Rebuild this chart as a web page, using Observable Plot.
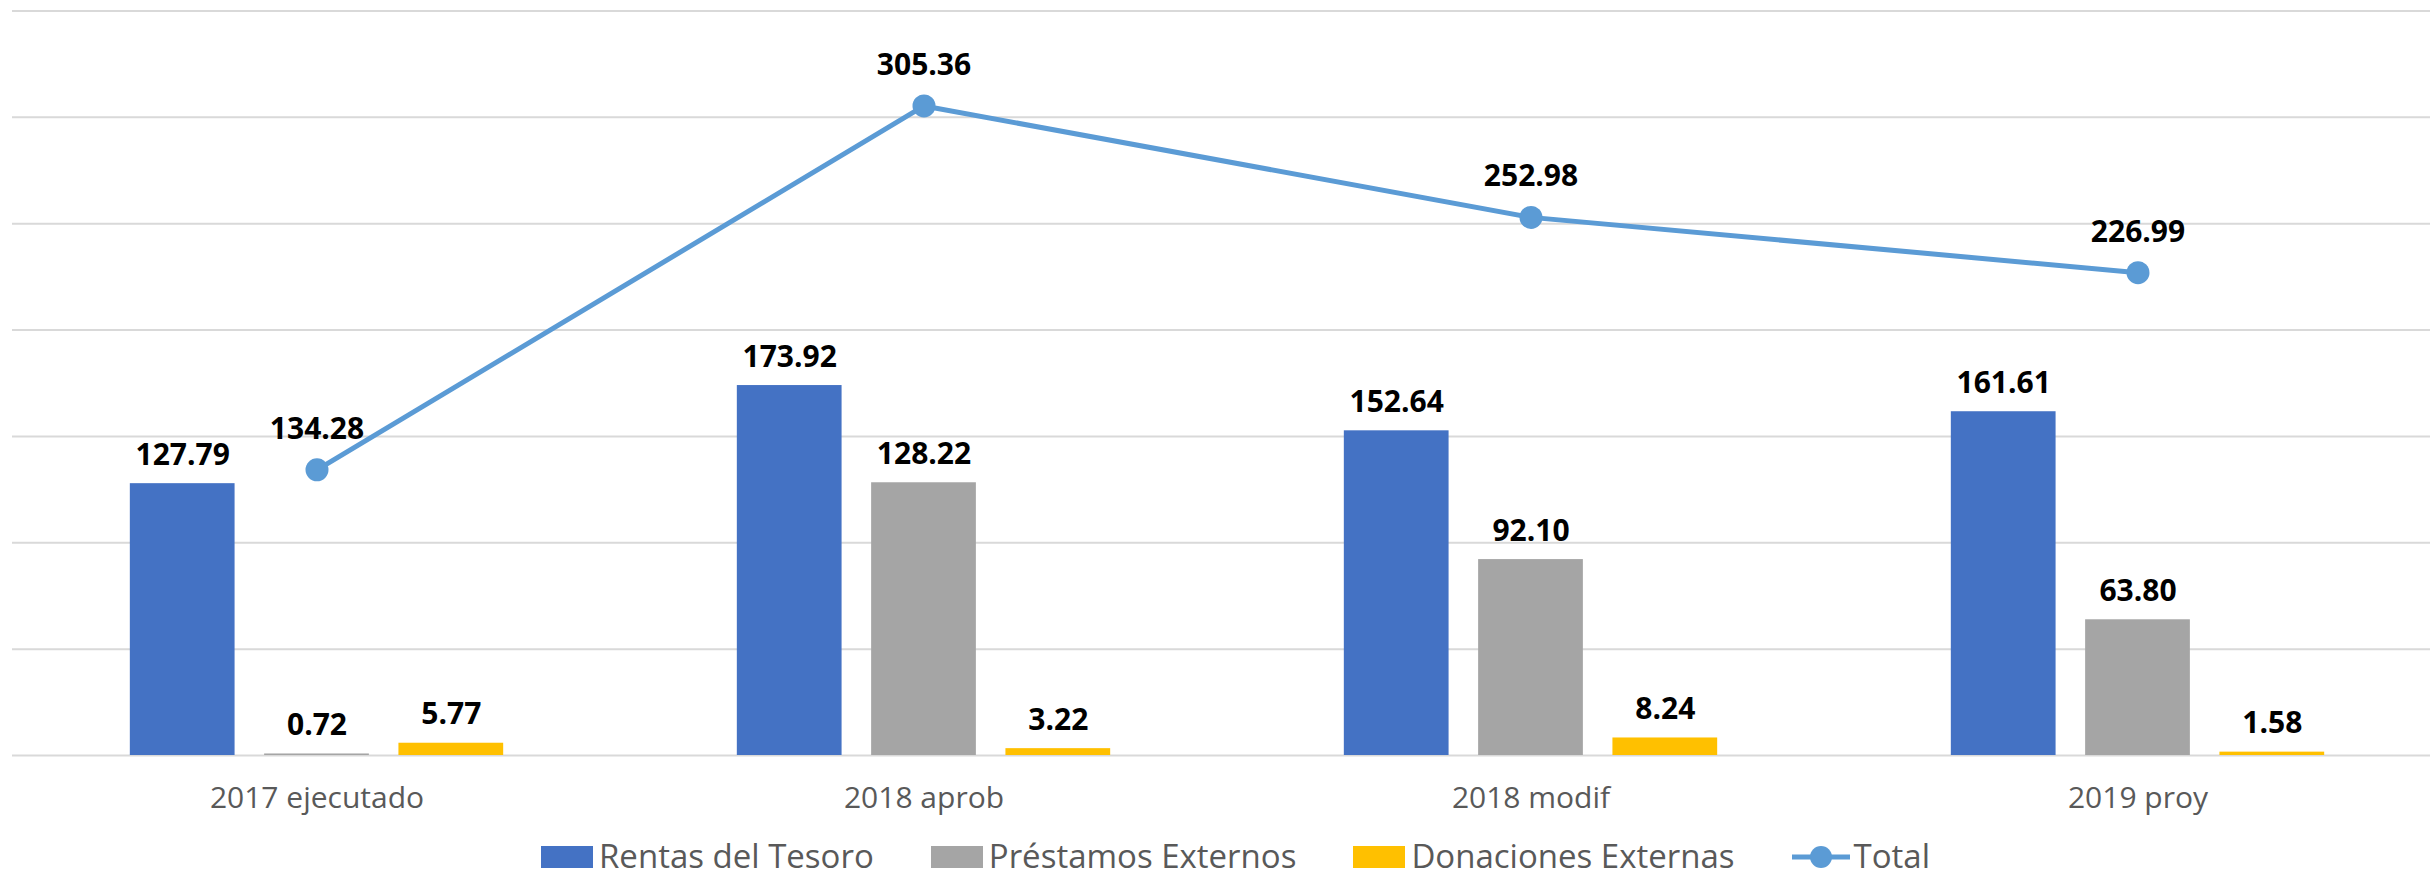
<!DOCTYPE html>
<html><head><meta charset="utf-8">
<script src="https://cdn.jsdelivr.net/npm/d3@7"></script>
<script src="https://cdn.jsdelivr.net/npm/@observablehq/plot@0.6"></script>
<style>
body{margin:0;background:#fff;font-family:"Open Sans",sans-serif;}
#wrap{position:relative;width:2430px;height:879px;overflow:hidden;background:#fff;}
#legend{position:absolute;left:541px;top:834px;height:42px;display:flex;align-items:center;font-size:33px;line-height:1;color:#595959;white-space:nowrap;}
.item{display:flex;align-items:center;margin-right:57px;}
.sw{display:block;width:52px;height:22px;margin-right:6px;margin-top:4px;}
.lm{display:block;width:58px;height:24px;margin-right:4px;margin-top:4px;}
.lm svg{display:block;}
.lt{display:block;line-height:33px;height:33px;}
</style></head><body><div id="wrap"><div id="chart"></div><div id="legend"></div></div>
<script>
const categories = ["2017 ejecutado", "2018 aprob", "2018 modif", "2019 proy"];
const rentas = [127.79, 173.92, 152.64, 161.61];
const prestamos = [0.72, 128.22, 92.10, 63.80];
const donaciones = [5.77, 3.22, 8.24, 1.58];
const total = [134.28, 305.36, 252.98, 226.99];
const gridTicks = [0, 50, 100, 150, 200, 250, 300, 350];
const seriesNames = ["Rentas del Tesoro", "Préstamos Externos", "Donaciones Externas", "Total"];
const colors = ["#4472C4", "#A5A5A5", "#FFC000", "#5B9BD5"];

const rows = categories.map((c, i) => ({cat: c, rentas: rentas[i], prestamos: prestamos[i], donaciones: donaciones[i], total: total[i]}));

const xRange = [11.2, 2441.8];
const band = (xRange[1] - xRange[0]) / categories.length;
const barW = 105.4, gap = 28.9, off = barW + gap;
function insets(k) { // k = -1, 0, 1
  const c = band / 2 + k * off;
  return {insetLeft: c - barW / 2, insetRight: band - c - barW / 2};
}
const labelStyle = {fill: "#000", fontWeight: "bold", fontSize: 30, textAnchor: "middle", lineAnchor: "bottom"};

const chart = Plot.plot({
  width: 2430,
  height: 835,
  marginTop: 10.5,
  marginBottom: 80,
  marginLeft: 12,
  marginRight: 0,
  style: {fontFamily: "Open Sans", background: "white"},
  x: {domain: categories, range: xRange, padding: 0},
  y: {domain: [0, 350], axis: null},
  marks: [
    Plot.ruleY(gridTicks, {stroke: "#D9D9D9", strokeWidth: 2}),
    Plot.barY(rows, {x: "cat", y: "rentas", fill: colors[0], ...insets(-1)}),
    Plot.barY(rows, {x: "cat", y: "prestamos", fill: colors[1], ...insets(0)}),
    Plot.barY(rows, {x: "cat", y: "donaciones", fill: colors[2], ...insets(1)}),
    Plot.lineY(rows, {x: "cat", y: "total", stroke: colors[3], strokeWidth: 5}),
    Plot.dot(rows, {x: "cat", y: "total", fill: colors[3], r: 11.5, stroke: "none"}),
    Plot.text(rows, {x: "cat", y: "rentas", text: d => d.rentas.toFixed(2), dx: -off, dy: -19, ...labelStyle}),
    Plot.text(rows, {x: "cat", y: "prestamos", text: d => d.prestamos.toFixed(2), dx: 0, dy: -19, ...labelStyle}),
    Plot.text(rows, {x: "cat", y: "donaciones", text: d => d.donaciones.toFixed(2), dx: off, dy: -19, ...labelStyle}),
    Plot.text(rows, {x: "cat", y: "total", text: d => d.total.toFixed(2), dy: -31, ...labelStyle}),
    Plot.axisX({tickSize: 0, tickPadding: 31, fontSize: 30, fill: "#595959", label: null})
  ]
});
document.getElementById("chart").appendChild(chart);

const legend = document.getElementById("legend");
seriesNames.forEach((name, i) => {
  const item = document.createElement("div");
  item.className = "item";
  if (i < 3) {
    const sw = document.createElement("span");
    sw.className = "sw";
    sw.style.background = colors[i];
    item.appendChild(sw);
  } else {
    const lm = document.createElement("span");
    lm.className = "lm";
    lm.innerHTML = `<svg width="58" height="24"><line x1="0" x2="58" y1="12" y2="12" stroke="${colors[3]}" stroke-width="5"/><circle cx="29" cy="12" r="11" fill="${colors[3]}"/></svg>`;
    item.appendChild(lm);
  }
  const t = document.createElement("span");
  t.className = "lt";
  t.textContent = name;
  item.appendChild(t);
  legend.appendChild(item);
});
</script>
</body></html>
